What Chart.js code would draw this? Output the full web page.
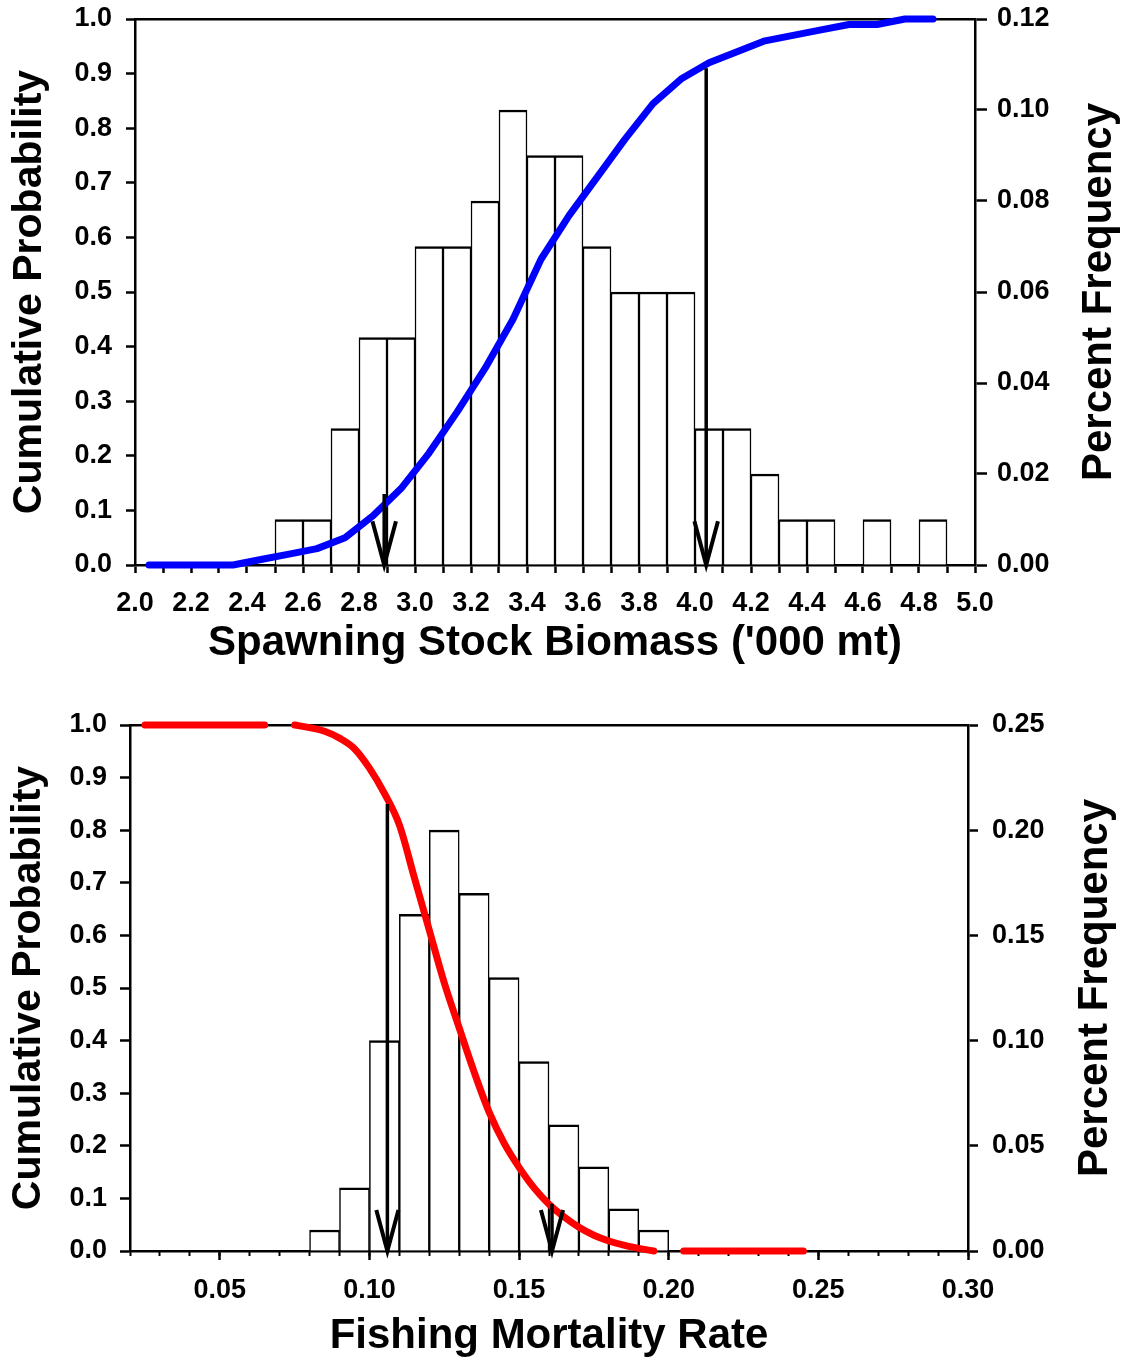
<!DOCTYPE html>
<html>
<head>
<meta charset="utf-8">
<script src="https://cdn.jsdelivr.net/npm/chart.js@4.4.1/dist/chart.umd.min.js"></script>
<style>
  body { margin: 0; background: #fff; }
  #wrap { position: relative; width: 1123px; height: 1357px; }
  canvas { position: absolute; left: 0; }
</style>
</head>
<body>
<div id="wrap">
  <canvas id="ssbChart" width="1123" height="680" style="top:0"></canvas>
  <canvas id="fChart" width="1123" height="677" style="top:680px"></canvas>
</div>
<script>
/**************** Data ****************/
// Spawning stock biomass: histogram bin centres ('000 mt) and percent frequency
const ssbBinCenters = [2.55, 2.65, 2.75, 2.85, 2.95, 3.05, 3.15, 3.25, 3.35, 3.45, 3.55, 3.65,
  3.75, 3.85, 3.95, 4.05, 4.15, 4.25, 4.35, 4.45, 4.55, 4.65, 4.75, 4.85];
const ssbFreq = [0.01, 0.01, 0.03, 0.05, 0.05, 0.07, 0.07, 0.08, 0.10, 0.09, 0.09, 0.07,
  0.06, 0.06, 0.06, 0.03, 0.03, 0.02, 0.01, 0.01, 0, 0.01, 0, 0.01];
// SSB cumulative probability
const ssbCumX = [2.05, 2.15, 2.25, 2.35, 2.45, 2.55, 2.65, 2.75, 2.85, 2.95, 3.05, 3.15, 3.25,
  3.35, 3.45, 3.55, 3.65, 3.75, 3.85, 3.95, 4.05, 4.15, 4.25, 4.35, 4.45, 4.55, 4.65, 4.75, 4.85];
const ssbCumP = [0, 0, 0, 0, 0.01, 0.02, 0.03, 0.05, 0.09, 0.14, 0.205, 0.28, 0.36,
  0.45, 0.56, 0.64, 0.71, 0.78, 0.845, 0.89, 0.92, 0.94, 0.96, 0.97, 0.98, 0.99, 0.99, 1.0, 1.0];
// SSB arrow markers (x position, top of shaft)
const ssbArrowX = [2.89, 4.04];
const ssbArrowTop = [0.13, 0.91];

// Fishing mortality: histogram bin centres and percent frequency
const fBinCenters = [0.085, 0.095, 0.105, 0.115, 0.125, 0.135, 0.145, 0.155, 0.165, 0.175, 0.185, 0.195];
const fFreq = [0.01, 0.03, 0.10, 0.16, 0.20, 0.17, 0.13, 0.09, 0.06, 0.04, 0.02, 0.01];
// F cumulative probability (null = break in the line)
const fCumX = [0.025, 0.065, 0.07, 0.075, 0.08, 0.085, 0.09, 0.095, 0.10, 0.105, 0.11, 0.115, 0.12,
  0.125, 0.13, 0.135, 0.14, 0.145, 0.15, 0.155, 0.16, 0.165, 0.17, 0.175, 0.18, 0.185, 0.19, 0.195,
  0.20, 0.205, 0.245];
const fCumP = [1, 1, null, 1.0, 0.995, 0.988, 0.975, 0.955, 0.918, 0.87, 0.81, 0.71, 0.61,
  0.51, 0.424, 0.34, 0.264, 0.205, 0.159, 0.12, 0.089, 0.065, 0.045, 0.03, 0.019, 0.011, 0.005, 0,
  null, 0, 0];
// F arrow markers
const fArrowX = [0.106, 0.161];
const fArrowTop = [0.85, 0.09];
// F axis labelled ticks
const fMajorTicks = [0.05, 0.10, 0.15, 0.20, 0.25, 0.30];

/**************** Shared helpers ****************/
const FONT = "'Liberation Sans', Arial, Helvetica, sans-serif";
Chart.defaults.font.family = FONT;
Chart.defaults.color = "#000";

function xy(xs, ys) {
  return xs.map((x, i) => ({ x: x, y: ys[i] }));
}

// shaft + V head for each arrow
function arrowDatasets(xs, tops, halfW, headH) {
  const sets = [];
  xs.forEach((x, i) => {
    const base = { type: "line", xAxisID: "x", yAxisID: "y", borderColor: "#000", pointRadius: 0, clip: false, order: 1 };
    sets.push(Object.assign({}, base, { data: [{ x: x, y: tops[i] }, { x: x, y: 0 }], borderWidth: 3.5 }));
    sets.push(Object.assign({}, base, {
      data: [{ x: x - halfW, y: headH }, { x: x, y: 0 }, { x: x + halfW, y: headH }],
      borderWidth: 4, borderJoinStyle: "miter",
    }));
  });
  return sets;
}

// drop the label overhang padding so the chart area sits where the layout says
function noOverhang(s) {
  s.paddingTop = 0;
  s.paddingBottom = 0;
  s.paddingLeft = 0;
  s.paddingRight = 0;
}

function sideAxis(pos, width, max, step, decimals, tickLen, pad, title) {
  return {
    type: "linear",
    position: pos,
    min: 0,
    max: max,
    afterFit: (s) => { s.width = width; noOverhang(s); },
    ticks: {
      stepSize: step,
      padding: pad,
      font: { size: 27, weight: "bold" },
      callback: (v) => v.toFixed(decimals),
    },
    grid: { drawOnChartArea: false, tickLength: tickLen, tickWidth: 2.5, tickColor: "#000" },
    border: { display: true, width: 2.5, color: "#000" },
    title: title,
  };
}

function topBorderAxis() {
  return {
    type: "linear",
    position: "top",
    offset: false,
    afterFit: (s) => { s.height = 0; noOverhang(s); },
    ticks: { display: false },
    grid: { display: false },
    border: { display: true, width: 2.5, color: "#000" },
  };
}

// right hand title reads bottom to top, like the left one
const rightTitle = {
  id: "rightTitle",
  afterDraw(chart, args, opts) {
    const { ctx, chartArea } = chart;
    ctx.save();
    ctx.translate(opts.x, (chartArea.top + chartArea.bottom) / 2);
    ctx.rotate(-Math.PI / 2);
    ctx.font = "bold 42px " + FONT;
    ctx.fillStyle = "#000";
    ctx.textAlign = "center";
    ctx.textBaseline = "middle";
    ctx.fillText(opts.text, 0, 0);
    ctx.restore();
  },
};

const barStyle = {
  type: "bar",
  xAxisID: "x",
  yAxisID: "y1",
  backgroundColor: "#fff",
  borderColor: "#000",
  borderWidth: { top: 2.5, left: 1.5, right: 1.5, bottom: 0 },
  borderSkipped: "start",
  barPercentage: 1,
  categoryPercentage: 1,
  order: 3,
};

/**************** SSB chart ****************/
new Chart(document.getElementById("ssbChart"), {
  data: {
    datasets: [
      Object.assign({}, barStyle, { data: xy(ssbBinCenters, ssbFreq) }),
      {
        type: "line",
        xAxisID: "x",
        yAxisID: "y",
        data: xy(ssbCumX, ssbCumP),
        borderColor: "#0000ff",
        borderWidth: 7,
        borderCapStyle: "round",
        borderJoinStyle: "round",
        pointRadius: 0,
        clip: false,
        order: 2,
      },
    ].concat(arrowDatasets(ssbArrowX, ssbArrowTop, 0.042, 0.08)),
  },
  plugins: [rightTitle],
  options: {
    responsive: false,
    animation: false,
    layout: { padding: { top: 19, left: 0, right: 0, bottom: 0 } },
    plugins: {
      legend: { display: false },
      tooltip: { enabled: false },
      rightTitle: { text: "Percent Frequency", x: 1099 },
    },
    scales: {
      x: {
        type: "linear",
        position: "bottom",
        offset: false,
        min: 2.0,
        max: 5.0,
        afterFit: (s) => { s.height = 115; noOverhang(s); },
        ticks: {
          stepSize: 0.1,
          autoSkip: false,
          maxRotation: 0,
          padding: 14,
          font: { size: 27, weight: "bold" },
          callback: (v) => (Math.round(v * 10) % 2 === 0 ? v.toFixed(1) : ""),
        },
        grid: { offset: false, drawOnChartArea: false, tickLength: 8, tickWidth: 2.5, tickColor: "#000" },
        border: { display: true, width: 2.5, color: "#000" },
        title: {
          display: true,
          text: "Spawning Stock Biomass ('000 mt)",
          font: { size: 42, weight: "bold" },
          padding: { top: 0, bottom: 11 },
        },
      },
      xTop: topBorderAxis(),
      y: sideAxis("left", 135, 1, 0.1, 1, 9, 14, {
        display: true,
        text: "Cumulative Probability",
        font: { size: 41, weight: "bold" },
        padding: { top: 5, bottom: 0 },
      }),
      y1: sideAxis("right", 148, 0.12, 0.02, 2, 12, 10, { display: false }),
    },
  },
});

/**************** Fishing mortality chart ****************/
new Chart(document.getElementById("fChart"), {
  data: {
    datasets: [
      Object.assign({}, barStyle, { data: xy(fBinCenters, fFreq) }),
      {
        type: "line",
        xAxisID: "x",
        yAxisID: "y",
        data: xy(fCumX, fCumP),
        borderColor: "#ff0000",
        borderWidth: 7,
        borderCapStyle: "round",
        borderJoinStyle: "round",
        cubicInterpolationMode: "monotone",
        spanGaps: false,
        pointRadius: 0,
        clip: false,
        order: 2,
      },
    ].concat(arrowDatasets(fArrowX, fArrowTop, 0.0037, 0.078)),
  },
  plugins: [rightTitle],
  options: {
    responsive: false,
    animation: false,
    layout: { padding: { top: 45, left: 0, right: 0, bottom: 0 } },
    plugins: {
      legend: { display: false },
      tooltip: { enabled: false },
      rightTitle: { text: "Percent Frequency", x: 1095 },
    },
    scales: {
      xMinor: {
        type: "linear",
        position: "bottom",
        weight: 0,
        offset: false,
        min: 0.02,
        max: 0.30,
        afterFit: (s) => { s.height = 0; noOverhang(s); },
        ticks: { display: false, stepSize: 0.01, autoSkip: false },
        grid: { offset: false, drawOnChartArea: false, tickLength: 5, tickWidth: 2, tickColor: "#000" },
        border: { display: false },
      },
      x: {
        type: "linear",
        position: "bottom",
        weight: 1,
        offset: false,
        min: 0.02,
        max: 0.30,
        afterFit: (s) => { s.height = 106; noOverhang(s); },
        afterBuildTicks: (s) => { s.ticks = fMajorTicks.map((v) => ({ value: v })); },
        ticks: {
          autoSkip: false,
          maxRotation: 0,
          padding: 14,
          font: { size: 27, weight: "bold" },
          callback: (v) => v.toFixed(2),
        },
        grid: { offset: false, drawOnChartArea: false, tickLength: 9, tickWidth: 2.5, tickColor: "#000" },
        border: { display: true, width: 2.5, color: "#000" },
        title: {
          display: true,
          text: "Fishing Mortality Rate",
          font: { size: 42, weight: "bold" },
          padding: { top: 0, bottom: -5 },
        },
      },
      xTop: topBorderAxis(),
      y: sideAxis("left", 130, 1, 0.1, 1, 10, 13, {
        display: true,
        text: "Cumulative Probability",
        font: { size: 41, weight: "bold" },
        padding: { top: 4, bottom: 0 },
      }),
      y1: sideAxis("right", 155, 0.25, 0.05, 2, 10, 14, { display: false }),
    },
  },
});
</script>
</body>
</html>
